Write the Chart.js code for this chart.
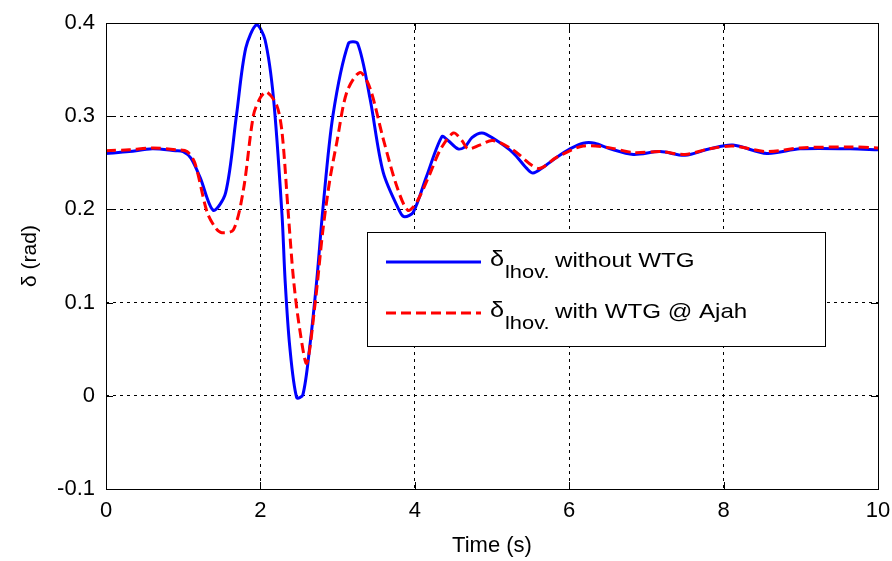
<!DOCTYPE html>
<html>
<head>
<meta charset="utf-8">
<script src="https://cdn.jsdelivr.net/npm/chart.js@4.4.0/dist/chart.umd.min.js"></script>
<style>
  html, body { margin: 0; padding: 0; background: #fff; }
  #wrap { width: 892px; height: 561px; }
</style>
</head>
<body>
<div id="wrap"><canvas id="deltaChart" width="892" height="561"></canvas></div>
<script>
        // Données
        const tBlue = [0, 0.3, 0.6, 0.9, 1.0, 1.1, 1.22, 1.39, 1.55, 1.69, 1.81, 1.95, 2.06, 2.17, 2.28, 2.32, 2.38, 2.47, 2.55, 2.64, 2.73, 2.81, 2.94, 3.14, 3.26, 3.42, 3.59, 3.81, 3.87, 3.98, 4.15, 4.35, 4.43, 4.56, 4.65, 4.74, 4.87, 5.02, 5.27, 5.45, 5.53, 5.66, 5.84, 6.01, 6.18, 6.33, 6.53, 6.83, 7.18, 7.5, 7.82, 8.12, 8.56, 8.99, 9.64, 10];
        const vBlue = [0.260, 0.262, 0.265, 0.263, 0.262, 0.255, 0.234, 0.199, 0.218, 0.301, 0.373, 0.398, 0.382, 0.319, 0.194, 0.124, 0.053, -0.002, 0.001, 0.053, 0.124, 0.201, 0.301, 0.378, 0.378, 0.319, 0.240, 0.197, 0.192, 0.197, 0.235, 0.278, 0.274, 0.265, 0.267, 0.277, 0.282, 0.276, 0.261, 0.244, 0.239, 0.245, 0.256, 0.265, 0.271, 0.271, 0.265, 0.259, 0.262, 0.258, 0.265, 0.269, 0.260, 0.265, 0.265, 0.264];

        const tRed = [0, 0.3, 0.61, 0.9, 1.05, 1.15, 1.31, 1.42, 1.5, 1.65, 1.78, 1.91, 2.0, 2.08, 2.21, 2.28, 2.36, 2.43, 2.51, 2.6, 2.71, 2.81, 2.9, 2.99, 3.12, 3.29, 3.42, 3.59, 3.77, 3.91, 4.02, 4.2, 4.33, 4.5, 4.61, 4.69, 4.84, 5.01, 5.27, 5.6, 5.84, 6.18, 6.53, 6.83, 7.18, 7.5, 7.82, 8.12, 8.56, 8.99, 9.64, 10];
        const vRed = [0.263, 0.264, 0.266, 0.264, 0.262, 0.250, 0.197, 0.180, 0.175, 0.178, 0.221, 0.301, 0.320, 0.326, 0.312, 0.283, 0.197, 0.124, 0.071, 0.035, 0.100, 0.178, 0.232, 0.272, 0.326, 0.347, 0.330, 0.276, 0.224, 0.199, 0.207, 0.239, 0.264, 0.282, 0.274, 0.265, 0.269, 0.274, 0.264, 0.244, 0.256, 0.268, 0.266, 0.261, 0.262, 0.259, 0.265, 0.268, 0.262, 0.266, 0.267, 0.266];

        const xTicks = [0, 2, 4, 6, 8, 10];
        const yTicks = [-0.1, 0, 0.1, 0.2, 0.3, 0.4];

        const toPoints = (ts, vs) => ts.map((t, i) => ({ x: t, y: vs[i] }));

        const FONT = "'Liberation Sans', Arial, sans-serif";

        // Cadre, graduations intérieures et légende à la MATLAB
        const matlabFrame = {
            id: "matlabFrame",
            beforeDraw(chart) {
                const ctx = chart.ctx;
                ctx.save();
                ctx.fillStyle = "#fff";
                ctx.fillRect(0, 0, chart.width, chart.height);
                ctx.restore();
            },
            afterDraw(chart) {
                const { ctx, chartArea: a, scales } = chart;
                ctx.save();
                ctx.strokeStyle = "#000";
                ctx.lineWidth = 1;
                ctx.setLineDash([]);
                ctx.strokeRect(Math.round(a.left) + 0.5, Math.round(a.top) + 0.5,
                    Math.round(a.right - a.left), Math.round(a.bottom - a.top));
                const tl = 7;
                ctx.beginPath();
                xTicks.forEach(v => {
                    const x = Math.round(scales.x.getPixelForValue(v)) + 0.5;
                    ctx.moveTo(x, a.bottom); ctx.lineTo(x, a.bottom - tl);
                    ctx.moveTo(x, a.top); ctx.lineTo(x, a.top + tl);
                });
                yTicks.forEach(v => {
                    const y = Math.round(scales.y.getPixelForValue(v)) + 0.5;
                    ctx.moveTo(a.left, y); ctx.lineTo(a.left + tl, y);
                    ctx.moveTo(a.right, y); ctx.lineTo(a.right - tl, y);
                });
                ctx.stroke();

                // légende
                const bx = 367, by = 232, bw = 458, bh = 114;
                ctx.fillStyle = "#fff";
                ctx.fillRect(bx, by, bw, bh);
                ctx.strokeRect(bx + 0.5, by + 0.5, bw, bh);

                const rows = [
                    { color: "#0000ff", dash: [], y: 262, text: "without WTG" },
                    { color: "#ff0000", dash: [10, 5], y: 313, text: "with WTG @ Ajah" }
                ];
                const sx = 1.15; // texte un peu étiré comme dans la figure
                rows.forEach(r => {
                    ctx.strokeStyle = r.color;
                    ctx.lineWidth = 3;
                    ctx.setLineDash(r.dash);
                    ctx.beginPath();
                    ctx.moveTo(386, r.y);
                    ctx.lineTo(481, r.y);
                    ctx.stroke();
                    ctx.setLineDash([]);
                    ctx.fillStyle = "#000";
                    ctx.textBaseline = "alphabetic";
                    ctx.textAlign = "left";
                    const put = (txt, x, y, size) => {
                        ctx.save();
                        ctx.translate(x, y);
                        ctx.scale(sx, 1);
                        ctx.font = size + "px " + FONT;
                        ctx.fillText(txt, 0, 0);
                        ctx.restore();
                    };
                    put("\u03b4", 490, r.y + 4, 22);
                    put("lhov.", 505, r.y + 16, 19);
                    put(r.text, 555, r.y + 5, 21);
                });
                ctx.restore();
            }
        };

        const config = {
            type: "line",
            data: {
                datasets: [
                    {
                        label: "δlhov. with WTG @ Ajah",
                        data: toPoints(tRed, vRed),
                        borderColor: "#ff0000",
                        borderWidth: 3,
                        borderDash: [10, 5],
                        pointRadius: 0,
                        tension: 0.3,
                        order: 1
                    },
                    {
                        label: "δlhov. without WTG",
                        data: toPoints(tBlue, vBlue),
                        borderColor: "#0000ff",
                        borderWidth: 3,
                        pointRadius: 0,
                        tension: 0.3,
                        order: 2
                    }
                ]
            },
            options: {
                responsive: false,
                animation: false,
                layout: { padding: { left: 0, right: 14, top: 23, bottom: 0 } },
                plugins: {
                    legend: { display: false },
                    tooltip: { enabled: false }
                },
                scales: {
                    x: {
                        type: "linear",
                        min: 0,
                        max: 10,
                        afterBuildTicks: s => { s.ticks = xTicks.map(v => ({ value: v })); },
                        afterFit: s => { s.height = 72; s.paddingRight = 0; s.paddingLeft = 0; },
                        grid: {
                            color: "#000",
                            lineWidth: 1,
                            drawTicks: false,
                            tickLength: 0
                        },
                        border: { display: false, dash: [3, 4] },
                        ticks: {
                            color: "#000",
                            font: { family: FONT, size: 22 },
                            padding: 9,
                            maxRotation: 0,
                            callback: v => String(v)
                        },
                        title: {
                            display: true,
                            text: "Time (s)",
                            color: "#000",
                            font: { family: FONT, size: 22 },
                            padding: { top: 0, bottom: 2 }
                        }
                    },
                    y: {
                        min: -0.1,
                        max: 0.4,
                        afterBuildTicks: s => { s.ticks = yTicks.map(v => ({ value: v })); },
                        afterFit: s => { s.width = 106; s.paddingTop = 0; s.paddingBottom = 0; },
                        grid: {
                            color: "#000",
                            lineWidth: 1,
                            drawTicks: false,
                            tickLength: 0
                        },
                        border: { display: false, dash: [3, 4] },
                        ticks: {
                            color: "#000",
                            font: { family: FONT, size: 22 },
                            padding: 11,
                            callback: v => (Math.abs(v) < 1e-9 ? "0" : String(Math.round(v * 10) / 10))
                        },
                        title: {
                            display: true,
                            text: "δ (rad)",
                            color: "#000",
                            font: { family: FONT, size: 21 },
                            padding: { top: 18, bottom: 0 }
                        }
                    }
                }
            },
            plugins: [matlabFrame]
        };

        new Chart(document.getElementById("deltaChart"), config);
</script>
</body>
</html>
